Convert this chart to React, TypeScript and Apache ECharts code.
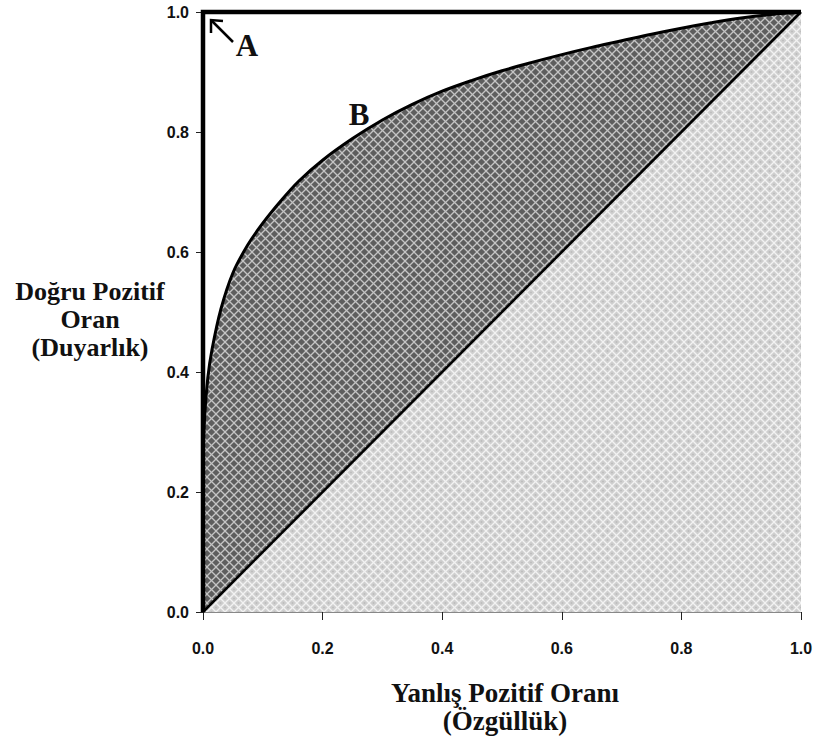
import React, { useEffect, useRef } from "react";
import * as echarts from "echarts";

const tickValues = [0, 0.2, 0.4, 0.6, 0.8, 1.0];
const perfectLine: [number, number][] = [[0, 0], [0, 1], [1, 1]];
const curveB: [number, number][] = [
  [0, 0], [0, 0.25], [0.003, 0.33], [0.008, 0.39], [0.015, 0.437],
  [0.03, 0.505], [0.05, 0.565], [0.075, 0.612], [0.1, 0.648], [0.13, 0.685],
  [0.16, 0.718], [0.2, 0.753], [0.25, 0.789], [0.3, 0.82], [0.35, 0.846],
  [0.4, 0.868], [0.45, 0.886], [0.5, 0.902], [0.55, 0.916], [0.6, 0.929],
  [0.65, 0.941], [0.7, 0.952], [0.75, 0.963], [0.8, 0.973], [0.85, 0.982],
  [0.9, 0.99], [0.95, 0.996], [1, 1],
];
const diagonalC: [number, number][] = [[0, 0], [1, 1]];
const yTitle = ["Doğru Pozitif", "Oran", "(Duyarlık)"];
const xTitle = ["Yanlış Pozitif Oranı", "(Özgüllük)"];

function makePattern(bg: string, line: string, dot: string | null) {
  const s = 9;
  const c = document.createElement("canvas");
  c.width = s;
  c.height = s;
  const ctx = c.getContext("2d")!;
  ctx.fillStyle = bg;
  ctx.fillRect(0, 0, s, s);
  ctx.strokeStyle = line;
  ctx.lineWidth = 1.3;
  for (let k = -1; k <= 2; k++) {
    ctx.beginPath();
    ctx.moveTo(k * s, 0);
    ctx.lineTo(k * s + s, s);
    ctx.stroke();
    ctx.beginPath();
    ctx.moveTo(k * s, 0);
    ctx.lineTo(k * s - s, s);
    ctx.stroke();
  }
  if (dot) {
    ctx.fillStyle = dot;
    const pts = [[s / 2, 0], [0, s / 2], [s, s / 2], [s / 2, s]];
    for (const [x, y] of pts) ctx.fillRect(x - 0.75, y - 0.75, 1.5, 1.5);
  }
  return { image: c, repeat: "repeat", imageWidth: s, imageHeight: s } as any;
}

export default function App() {
  const ref = useRef<HTMLDivElement>(null);
  useEffect(() => {
    if (!ref.current) return;
    const chart = echarts.init(ref.current, null, { renderer: "svg" });
    const darkPat = makePattern("#5e5e5e", "#c4c4c4", null);
    const lightPat = makePattern("#cfcfcf", "#f2f2f2", "#b8b8b8");
    const tickFont = {
      fontFamily: "Liberation Sans, Arial, sans-serif",
      fontWeight: "bold" as const,
      fontSize: 16,
      color: "#111",
    };
    const titleStyle = {
      fontFamily: "Liberation Serif, Times New Roman, serif",
      fontWeight: "bold" as const,
      fontSize: 27,
      fill: "#111",
    };
    chart.setOption({
      animation: false,
      backgroundColor: "#fff",
      grid: { left: 203, right: 18, top: 12, bottom: 135 },
      xAxis: {
        type: "value",
        min: 0,
        max: 1,
        interval: 0.2,
        axisLine: { show: true, lineStyle: { color: "#888", width: 1 } },
        axisTick: { show: true, length: 8, lineStyle: { color: "#222", width: 1 } },
        axisLabel: { ...tickFont, margin: 28, formatter: (v: number) => v.toFixed(1) },
        splitLine: { show: false },
      },
      yAxis: {
        type: "value",
        min: 0,
        max: 1,
        interval: 0.2,
        axisLine: { show: true, lineStyle: { color: "#888", width: 1 } },
        axisTick: { show: true, length: 7, lineStyle: { color: "#222", width: 1 } },
        axisLabel: { ...tickFont, margin: 14, formatter: (v: number) => v.toFixed(1) },
        splitLine: { show: false },
      },
      series: [
        {
          type: "line",
          data: curveB,
          smooth: 0.35,
          symbol: "none",
          lineStyle: { color: "#000", width: 3 },
          areaStyle: { color: darkPat, opacity: 1, origin: "start" },
          z: 2,
          clip: false,
        },
        {
          type: "line",
          data: diagonalC,
          symbol: "none",
          lineStyle: { color: "#000", width: 2.5 },
          areaStyle: { color: lightPat, opacity: 1, origin: "start" },
          z: 3,
          clip: false,
        },
        {
          type: "line",
          data: perfectLine,
          symbol: "none",
          lineStyle: { color: "#000", width: 4.5, join: "miter" },
          z: 4,
          clip: false,
        },
      ],
      graphic: [
        {
          type: "text",
          x: 90,
          y: 277,
          style: {
            ...titleStyle,
            fontSize: 26,
            text: yTitle.join("\n"),
            align: "center",
            lineHeight: 28,
          },
        },
        {
          type: "text",
          x: 505,
          y: 679,
          style: { ...titleStyle, text: xTitle.join("\n"), align: "center", lineHeight: 28 },
        },
        {
          type: "text",
          x: 247,
          y: 45,
          style: { ...titleStyle, fontSize: 31, text: "A", align: "center", verticalAlign: "middle" },
        },
        {
          type: "text",
          x: 359,
          y: 114,
          style: { ...titleStyle, fontSize: 31, text: "B", align: "center", verticalAlign: "middle" },
        },
        {
          type: "text",
          x: 503,
          y: 343,
          style: { ...titleStyle, fontSize: 31, text: "C", align: "center", verticalAlign: "middle" },
        },
        {
          type: "polyline",
          shape: { points: [[233, 42], [211, 20]] },
          style: { stroke: "#000", lineWidth: 2.5 },
        },
        {
          type: "polyline",
          shape: { points: [[223, 21], [211, 20], [211, 33]] },
          style: { stroke: "#000", lineWidth: 2.5, fill: null },
        },
      ],
    });
    return () => chart.dispose();
  }, []);
  return (
    <div
      ref={ref}
      style={{ position: "fixed", left: 0, top: 0, width: 819, height: 747 }}
    />
  );
}
